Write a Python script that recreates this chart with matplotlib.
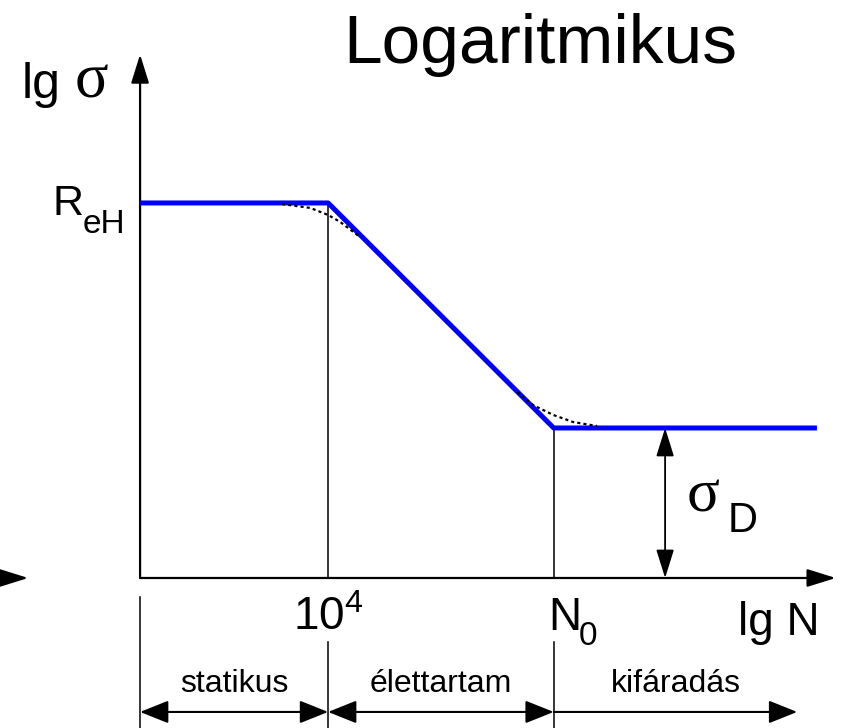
import numpy as np
import matplotlib
matplotlib.use("Agg")
import matplotlib.pyplot as plt

plt.rcParams['font.family'] = ['Liberation Sans', 'DejaVu Sans']
plt.rcParams['mathtext.default'] = 'regular'

# idealised S-N (Woehler) curve on log-log axes
lgN_knee = 4.0        # lg 10^4, end of the static range
lgN_0 = 8.8           # N0, start of the fatigue limit
lgN_end = 14.4
lg_ReH = 2.5
lg_sigmaD = 1.0
curve_x = [0.0, lgN_knee, lgN_0, lgN_end]
curve_y = [lg_ReH, lg_ReH, lg_sigmaD, lg_sigmaD]

# measured (rounded) transitions at the two knees
knee1_x = [3.02, 3.62, 4.0, 4.26, 4.68]
knee1_y = [2.493, 2.467, 2.42, 2.373, 2.273]
knee2_x = [8.02, 8.36, 8.79, 9.21, 9.72]
knee2_y = [1.24, 1.153, 1.087, 1.04, 1.013]

range_edges = [0.0, lgN_knee, lgN_0, 13.98]
range_names = ['statikus', 'élettartam', 'kifáradás']

serif = ['Liberation Serif', 'DejaVu Serif']

fig = plt.figure(figsize=(8.55, 7.28), dpi=100)
ax = fig.add_axes([0, 0, 1, 1])
ax.set_xlim(-2.98, 15.21)
ax.set_ylim(-1.0, 3.853)
ax.axis('off')

# axes with arrow heads
ax_arrow = dict(arrowstyle='-|>,head_length=0.8,head_width=0.25', color='black',
                lw=1.6, mutation_scale=22, shrinkA=0, shrinkB=0)
ax.annotate('', xy=(0, 3.49), xytext=(0, 0), arrowprops=ax_arrow)
ax.annotate('', xy=(14.8, 0), xytext=(0, 0), arrowprops=ax_arrow)
ax.annotate('', xy=(-2.38, 0), xytext=(-2.98, 0), arrowprops=ax_arrow)

# guide lines down to the axis
ax.plot([lgN_knee, lgN_knee], [0, lg_ReH], color='black', lw=1.1)
ax.plot([lgN_0, lgN_0], [0, lg_sigmaD], color='black', lw=1.1)

ax.plot(curve_x, curve_y, color='#0000ff', lw=3.6, solid_capstyle='butt', zorder=3)
ax.plot(knee1_x, knee1_y, color='black', lw=1.6, ls=(0, (1.4, 1.4)), zorder=4)
ax.plot(knee2_x, knee2_y, color='black', lw=1.6, ls=(0, (1.4, 1.4)), zorder=4)

# fatigue limit dimension
dim_arrow = dict(arrowstyle='<|-|>,head_length=0.8,head_width=0.25', color='black',
                 lw=1.3, mutation_scale=22, shrinkA=0, shrinkB=0)
ax.annotate('', xy=(11.17, lg_sigmaD), xytext=(11.17, 0), arrowprops=dim_arrow)
ax.text(11.62, 0.44, 'σ', fontsize=44, ha='left', va='baseline', family=serif)
ax.text(12.49, 0.307, 'D', fontsize=30, ha='left', va='baseline')

# range markers below the axis
ax.plot([0, 0], [-0.127, -1.0], color='black', lw=1.1)
for xv in range_edges[1:3]:
    ax.plot([xv, xv], [-0.427, -1.0], color='black', lw=1.1)
rng_y = -0.893
rng_both = dict(arrowstyle='<|-|>,head_length=0.8,head_width=0.32', color='black',
                lw=1.5, mutation_scale=22, shrinkA=0, shrinkB=0)
rng_left = dict(rng_both, arrowstyle='<|-,head_length=0.8,head_width=0.32')
for i, name in enumerate(range_names):
    a, b = range_edges[i], range_edges[i + 1]
    props = rng_both if i < 2 else rng_left
    ax.annotate('', xy=(a, rng_y), xytext=(b, rng_y), arrowprops=props)
    ax.text((a + b) / 2, -0.76, name, fontsize=23, ha='center', va='baseline')

# labels
ax.text(8.51, 3.433, 'Logaritmikus', fontsize=50, ha='center', va='baseline')
ax.text(-2.51, 3.2, 'lg', fontsize=36, ha='left', va='baseline')
ax.text(-1.40, 3.2, 'σ', fontsize=45, ha='left', va='baseline', family=serif)
ax.text(-1.87, 2.42, 'R', fontsize=31, ha='left', va='baseline')
ax.text(-1.22, 2.30, 'eH', fontsize=24, ha='left', va='baseline')
ax.text(lgN_knee, -0.347, '$10^4$', fontsize=33, ha='center', va='baseline')
ax.text(8.68, -0.347, 'N', fontsize=33, ha='left', va='baseline')
ax.text(9.33, -0.447, '0', fontsize=24, ha='left', va='baseline')
ax.text(12.72, -0.38, 'lg N', fontsize=33, ha='left', va='baseline')

fig.savefig('out.png', dpi=100)
